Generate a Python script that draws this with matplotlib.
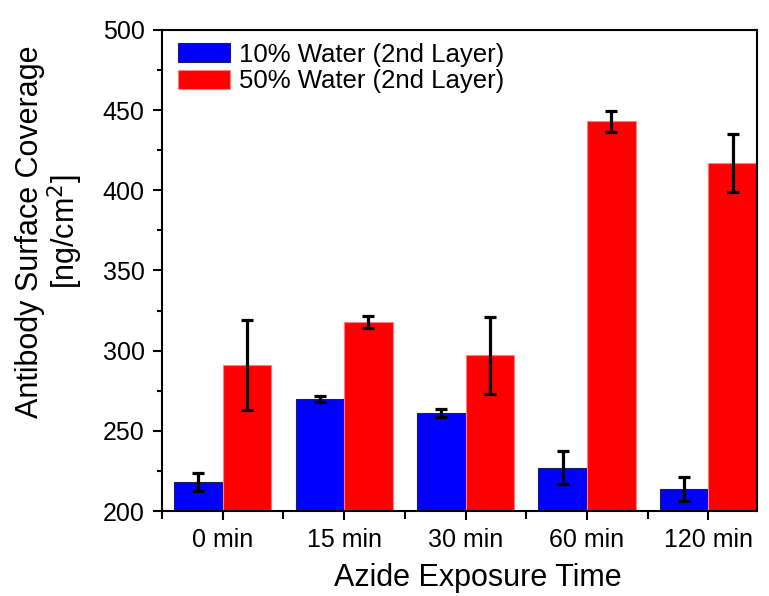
import numpy as np
import matplotlib.pyplot as plt
from matplotlib.ticker import MultipleLocator, FixedLocator

plt.rcParams['font.family'] = ['Liberation Sans', 'DejaVu Sans']

# Данные
categories = ['0 min', '15 min', '30 min', '60 min', '120 min']
water10 = [218, 270, 261, 227, 214]
water10_err = [5.8, 2.0, 2.5, 10.2, 7.5]
water50 = [291, 318, 297, 443, 417]
water50_err = [28, 3.8, 24, 6.5, 18]

x = np.arange(len(categories))
w = 0.4

fig = plt.figure(figsize=(7.69, 5.96), dpi=100)
ax = fig.add_axes([0.2107, 0.1426, 0.9844 - 0.2107, 0.9497 - 0.1426])

err_kw = dict(ecolor='black', elinewidth=2.3, capsize=4.3, capthick=2.3)
ax.bar(x - w / 2, water10, w, yerr=water10_err, color='#0000ff', edgecolor='#202050',
       linewidth=0.8, error_kw=err_kw, label='10% Water (2nd Layer)')
ax.bar(x + w / 2, water50, w, yerr=water50_err, color='#ff0000', edgecolor='#ff8080',
       linewidth=0.8, error_kw=err_kw, label='50% Water (2nd Layer)')

ax.set_xlim(-0.5, 4.4)
ax.set_ylim(200, 500)
ax.set_xticks(x)
ax.set_xticklabels(categories)
ax.xaxis.set_minor_locator(FixedLocator([-0.5, 0.5, 1.5, 2.5, 3.5]))
ax.yaxis.set_major_locator(MultipleLocator(50))
ax.yaxis.set_minor_locator(MultipleLocator(25))

ax.tick_params(axis='both', which='major', direction='out', length=6.5, width=1.5,
               labelsize=18, pad=6)
ax.tick_params(axis='x', which='minor', direction='out', length=6, width=1.5)
ax.tick_params(axis='y', which='minor', direction='out', length=3.5, width=1.5)
for s in ax.spines.values():
    s.set_linewidth(1.5)

ax.set_xlabel('Azide Exposure Time', fontsize=22)
ax.xaxis.set_label_coords(0.531, -0.108)
ax.set_ylabel('Antibody Surface Coverage\n[ng/cm$^2$]', fontsize=22,
              linespacing=1.0)
ax.yaxis.set_label_coords(-0.13, 0.58)

ax.legend(loc='upper left', frameon=False, fontsize=18.5, handlelength=2.0,
          handleheight=0.78, handletextpad=0.35, labelspacing=0.1,
          borderaxespad=0.0, bbox_to_anchor=(0.01, 0.995))

fig.savefig('out.png', dpi=100)
